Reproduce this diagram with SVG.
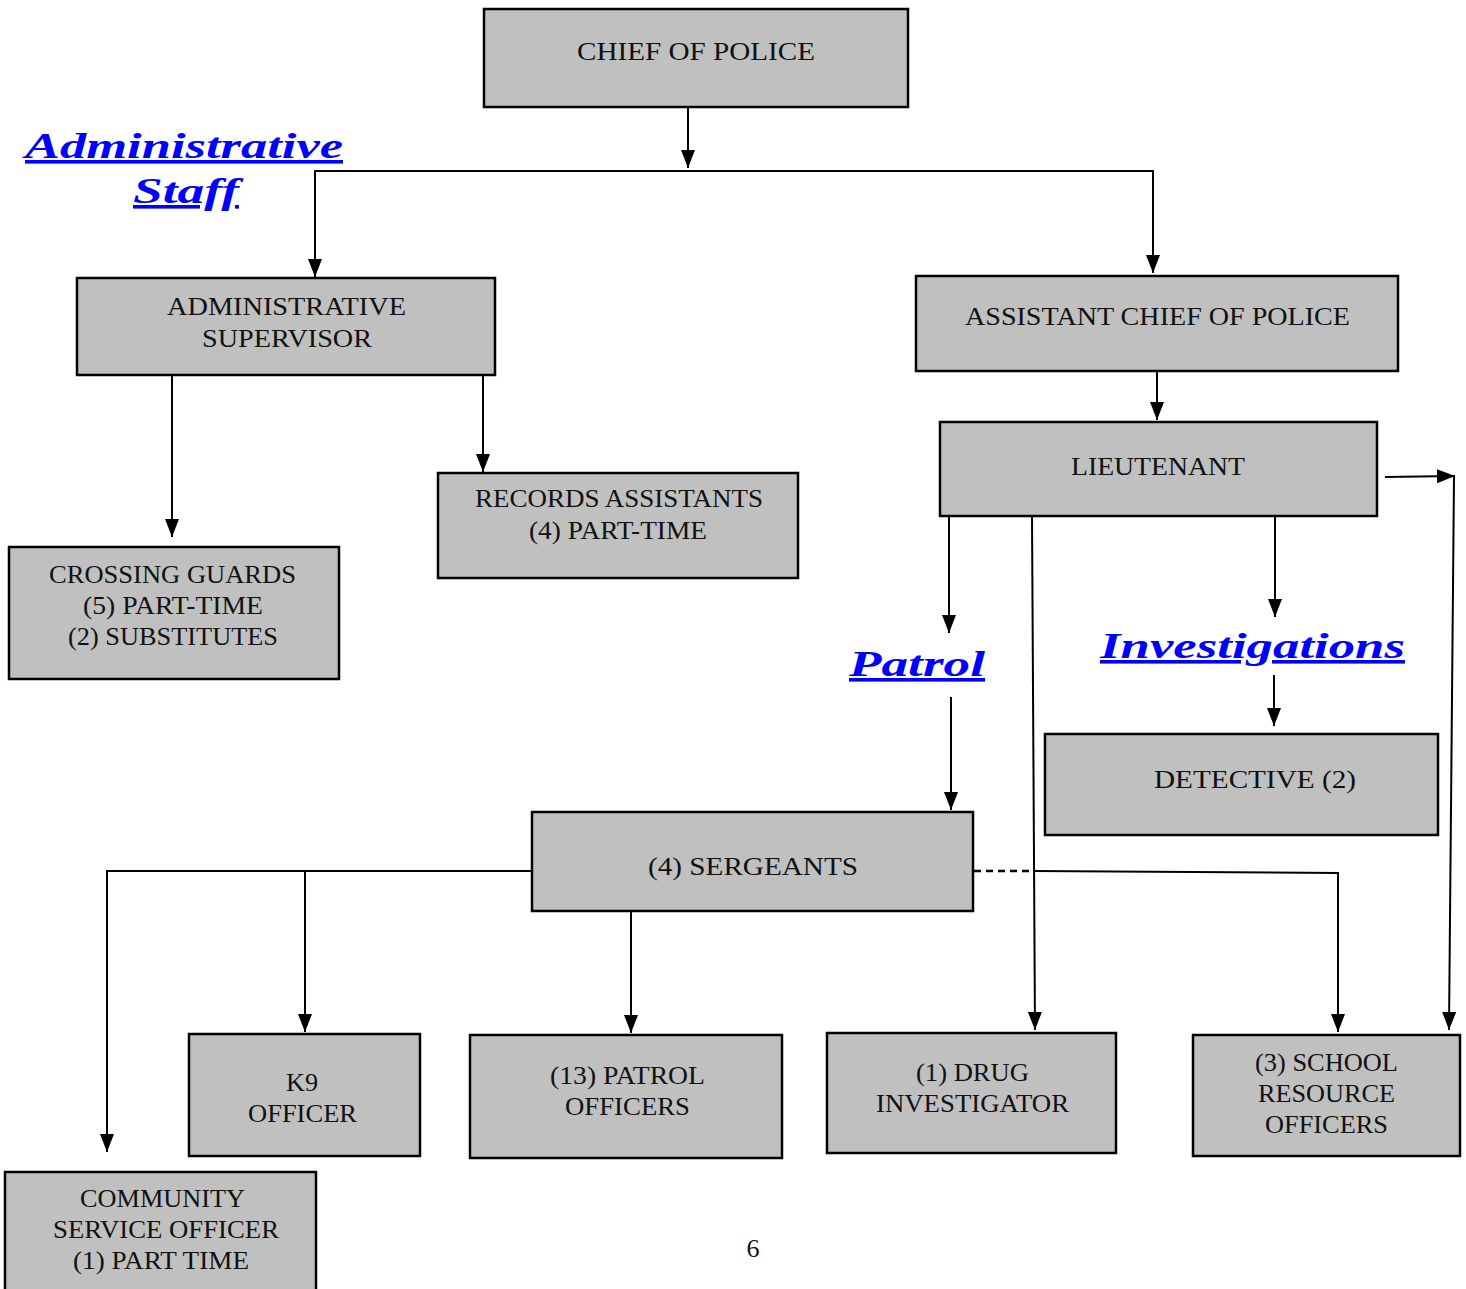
<svg xmlns="http://www.w3.org/2000/svg" width="1466" height="1289" viewBox="0 0 1466 1289">
<style>
.box{fill:#c0c0c0;stroke:#000;stroke-width:2.5}
.t{font-family:"Liberation Serif","Times New Roman",serif;font-size:26px;fill:#111}
.c{font-family:"Liberation Serif","Times New Roman",serif;font-style:italic;font-weight:bold;font-size:36px;fill:#0000ff;text-decoration:underline}
.ln{fill:none;stroke:#000;stroke-width:2}
.dash{fill:none;stroke:#000;stroke-width:2.5;stroke-dasharray:7 5}
</style>
<defs>
<marker id="ah" viewBox="0 0 18 14" refX="18" refY="7" markerWidth="18" markerHeight="14" markerUnits="userSpaceOnUse" orient="auto">
<path d="M0,0 L18,7 L0,14 z" fill="#000"/>
</marker>
</defs>
<rect width="1466" height="1289" fill="#fff"/>

<g id="connectors">
<path class="ln" d="M688,107 V168" marker-end="url(#ah)"/>
<path class="ln" d="M688,171 H315 V277" marker-end="url(#ah)"/>
<path class="ln" d="M688,171 H1153 V273" marker-end="url(#ah)"/>
<path class="ln" d="M172,375 V537" marker-end="url(#ah)"/>
<path class="ln" d="M483,375 V472" marker-end="url(#ah)"/>
<path class="ln" d="M1157,371 V420" marker-end="url(#ah)"/>
<path class="ln" d="M1385,477 L1455,476" marker-end="url(#ah)"/>
<path class="ln" d="M1454,477 L1449,1030" marker-end="url(#ah)"/>
<path class="ln" d="M949,516 V633" marker-end="url(#ah)"/>
<path class="ln" d="M951,697 V810" marker-end="url(#ah)"/>
<path class="ln" d="M1032,516 L1035,1030" marker-end="url(#ah)"/>
<path class="ln" d="M1275,516 V617" marker-end="url(#ah)"/>
<path class="ln" d="M1274,675 V726" marker-end="url(#ah)"/>
<path class="ln" d="M532,871 H107 V1152" marker-end="url(#ah)"/>
<path class="ln" d="M305,871 V1032" marker-end="url(#ah)"/>
<path class="ln" d="M631,911 V1033" marker-end="url(#ah)"/>
<path class="dash" d="M974,871 H1033"/>
<path class="ln" d="M1033,871 L1338,873 V1032" marker-end="url(#ah)"/>
</g>

<g id="labels">
<text class="c" x="25" y="158" textLength="318" lengthAdjust="spacingAndGlyphs">Administrative</text>
<text class="c" x="133" y="203" textLength="106" lengthAdjust="spacingAndGlyphs">Staff</text>
<text class="c" x="849" y="676" textLength="136" lengthAdjust="spacingAndGlyphs">Patrol</text>
<text class="c" x="1100" y="658" textLength="305" lengthAdjust="spacingAndGlyphs">Investigations</text>
<text class="t" x="753" y="1257" text-anchor="middle" font-size="22">6</text>
</g>

<g id="chief">
<rect class="box" x="484" y="9" width="424" height="98"/>
<text class="t" x="577" y="60" textLength="238" lengthAdjust="spacingAndGlyphs">CHIEF OF POLICE</text>
</g>
<g id="admin-supervisor">
<rect class="box" x="77" y="278" width="418" height="97"/>
<text class="t" x="167" y="315" textLength="239" lengthAdjust="spacingAndGlyphs">ADMINISTRATIVE</text>
<text class="t" x="202" y="347" textLength="170" lengthAdjust="spacingAndGlyphs">SUPERVISOR</text>
</g>
<g id="crossing-guards">
<rect class="box" x="9" y="547" width="330" height="132"/>
<text class="t" x="49" y="583" textLength="247" lengthAdjust="spacingAndGlyphs">CROSSING GUARDS</text>
<text class="t" x="83" y="614" textLength="180" lengthAdjust="spacingAndGlyphs">(5) PART-TIME</text>
<text class="t" x="68" y="645" textLength="210" lengthAdjust="spacingAndGlyphs">(2) SUBSTITUTES</text>
</g>
<g id="records">
<rect class="box" x="438" y="473" width="360" height="105"/>
<text class="t" x="475" y="507" textLength="288" lengthAdjust="spacingAndGlyphs">RECORDS ASSISTANTS</text>
<text class="t" x="529" y="539" textLength="178" lengthAdjust="spacingAndGlyphs">(4) PART-TIME</text>
</g>
<g id="assistant-chief">
<rect class="box" x="916" y="276" width="482" height="95"/>
<text class="t" x="965" y="325" textLength="385" lengthAdjust="spacingAndGlyphs">ASSISTANT CHIEF OF POLICE</text>
</g>
<g id="lieutenant">
<rect class="box" x="940" y="422" width="437" height="94"/>
<text class="t" x="1071" y="475" textLength="174" lengthAdjust="spacingAndGlyphs">LIEUTENANT</text>
</g>
<g id="detective">
<rect class="box" x="1045" y="734" width="393" height="101"/>
<text class="t" x="1154" y="788" textLength="202" lengthAdjust="spacingAndGlyphs">DETECTIVE (2)</text>
</g>
<g id="sergeants">
<rect class="box" x="532" y="812" width="441" height="99"/>
<text class="t" x="648" y="875" textLength="210" lengthAdjust="spacingAndGlyphs">(4) SERGEANTS</text>
</g>
<g id="k9">
<rect class="box" x="189" y="1034" width="231" height="122"/>
<text class="t" x="286" y="1091" textLength="32" lengthAdjust="spacingAndGlyphs">K9</text>
<text class="t" x="248" y="1122" textLength="109" lengthAdjust="spacingAndGlyphs">OFFICER</text>
</g>
<g id="patrol-officers">
<rect class="box" x="470" y="1035" width="312" height="123"/>
<text class="t" x="550" y="1084" textLength="155" lengthAdjust="spacingAndGlyphs">(13) PATROL</text>
<text class="t" x="565" y="1115" textLength="125" lengthAdjust="spacingAndGlyphs">OFFICERS</text>
</g>
<g id="community-service">
<rect class="box" x="5" y="1172" width="311" height="125"/>
<text class="t" x="80" y="1207" textLength="165" lengthAdjust="spacingAndGlyphs">COMMUNITY</text>
<text class="t" x="53" y="1238" textLength="226" lengthAdjust="spacingAndGlyphs">SERVICE OFFICER</text>
<text class="t" x="73" y="1269" textLength="176" lengthAdjust="spacingAndGlyphs">(1) PART TIME</text>
</g>
<g id="drug-investigator">
<rect class="box" x="827" y="1033" width="289" height="120"/>
<text class="t" x="916" y="1081" textLength="113" lengthAdjust="spacingAndGlyphs">(1) DRUG</text>
<text class="t" x="876" y="1112" textLength="193" lengthAdjust="spacingAndGlyphs">INVESTIGATOR</text>
</g>
<g id="school-resource">
<rect class="box" x="1193" y="1035" width="267" height="121"/>
<text class="t" x="1255" y="1071" textLength="143" lengthAdjust="spacingAndGlyphs">(3) SCHOOL</text>
<text class="t" x="1258" y="1102" textLength="137" lengthAdjust="spacingAndGlyphs">RESOURCE</text>
<text class="t" x="1265" y="1133" textLength="123" lengthAdjust="spacingAndGlyphs">OFFICERS</text>
</g>
</svg>
